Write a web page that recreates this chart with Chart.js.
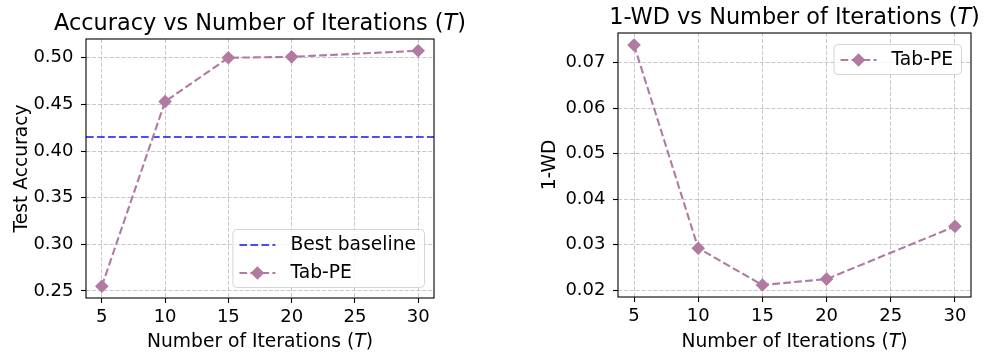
<!DOCTYPE html>
<html>
<head>
<meta charset="utf-8">
<script src="https://cdn.jsdelivr.net/npm/chart.js@4.4.1/dist/chart.umd.min.js"></script>
<style>
  html, body { margin: 0; padding: 0; background: #fff; }
  #wrap { position: relative; width: 986px; height: 355px; }
  canvas { position: absolute; top: 0; }
</style>
</head>
<body>
<div id="wrap">
  <canvas id="accChart" width="493" height="355" style="left:0"></canvas>
  <canvas id="wdChart" width="493" height="355" style="left:493px"></canvas>
</div>
<script>
// data
const iterations = [5, 10, 15, 20, 30];
const accuracy = [0.255, 0.453, 0.500, 0.501, 0.5075];
const oneWD = [0.0739, 0.0292, 0.0211, 0.0224, 0.0340];
const bestBaseline = 0.415;
const xTicks = [5, 10, 15, 20, 25, 30];
const accTicks = [0.25, 0.30, 0.35, 0.40, 0.45, 0.50];
const wdTicks = [0.02, 0.03, 0.04, 0.05, 0.06, 0.07];

const FONT = "'DejaVu Sans', sans-serif";
const LABEL_SIZE = 18.7;
const purple = "#b07aa1";
const blue = "rgba(0, 0, 255, 0.7)";
const gridColor = "rgba(176, 176, 176, 0.7)";
const lineDash = [7.7, 3.3];

// matplotlib style 5% margins
function limits(vals) {
    const lo = Math.min(...vals), hi = Math.max(...vals);
    const m = (hi - lo) * 0.05;
    return [lo - m, hi + m];
}
const [xMin, xMax] = limits(iterations);

function drawParts(ctx, parts, cx, y, size) {
    const fonts = parts.map((p) => (p[1] ? "italic " : "") + size + "px " + FONT);
    let total = 0;
    const widths = parts.map((p, i) => {
        ctx.font = fonts[i];
        const w = ctx.measureText(p[0]).width;
        total += w;
        return w;
    });
    let x = cx - total / 2;
    ctx.textAlign = "left";
    ctx.textBaseline = "alphabetic";
    parts.forEach((p, i) => {
        ctx.font = fonts[i];
        ctx.fillText(p[0], x, y);
        x += widths[i];
    });
}

function diamond(ctx, x, y, r, color) {
    ctx.beginPath();
    ctx.moveTo(x - r, y);
    ctx.lineTo(x, y - r);
    ctx.lineTo(x + r, y);
    ctx.lineTo(x, y + r);
    ctx.closePath();
    ctx.fillStyle = color;
    ctx.fill();
}

function drawLegend(ctx, items, a, corner) {
    ctx.font = LABEL_SIZE + "px " + FONT;
    const tw = Math.max(...items.map((it) => ctx.measureText(it.label).width));
    const w = 58 + tw + 8;
    const h = 30 + 28 * (items.length - 1);
    const x = a.right - 10 - w;
    const y = corner === "lower" ? a.bottom - 11 - h : a.top + 11;

    ctx.beginPath();
    ctx.roundRect(x + 0.5, y + 0.5, w, h, 4);
    ctx.fillStyle = "rgba(255,255,255,0.8)";
    ctx.fill();
    ctx.strokeStyle = "#d5d5d5";
    ctx.lineWidth = 1;
    ctx.stroke();

    items.forEach((it, i) => {
        const ry = y + 16 + 28 * i;
        ctx.save();
        ctx.setLineDash(lineDash);
        ctx.strokeStyle = it.color;
        ctx.lineWidth = 2.1;
        ctx.beginPath();
        ctx.moveTo(x + 7, ry);
        ctx.lineTo(x + 43, ry);
        ctx.stroke();
        ctx.restore();
        if (it.marker) diamond(ctx, x + 25, ry, 6.8, it.color);
        ctx.fillStyle = "#000";
        ctx.font = LABEL_SIZE + "px " + FONT;
        ctx.textAlign = "left";
        ctx.textBaseline = "middle";
        ctx.fillText(it.label, x + 58, ry);
    });
}

function decor(cfg) {
    return {
        id: "decor",
        afterDraw(chart) {
            const ctx = chart.ctx;
            const a = chart.chartArea;
            const cx = (a.left + a.right) / 2;
            ctx.save();
            ctx.strokeStyle = "#000";
            ctx.lineWidth = 1.1;
            ctx.strokeRect(a.left, a.top, a.right - a.left, a.bottom - a.top);

            ctx.fillStyle = "#000";
            drawParts(ctx, [[cfg.title + " vs Number of Iterations (", false], ["T", true], [")", false]], cx, a.top - 9.5, 22.4);
            drawParts(ctx, [["Number of Iterations (", false], ["T", true], [")", false]], cx, 346.5, LABEL_SIZE);

            ctx.save();
            ctx.translate(a.left - cfg.yLabelGap, (a.top + a.bottom) / 2);
            ctx.rotate(-Math.PI / 2);
            ctx.font = LABEL_SIZE + "px " + FONT;
            ctx.textAlign = "center";
            ctx.textBaseline = "alphabetic";
            ctx.fillText(cfg.yLabel, 0, 0);
            ctx.restore();

            drawLegend(ctx, cfg.legend, a, cfg.corner);
            ctx.restore();
        },
    };
}

function scales(yLim, yTicks, yWidth, xHeight) {
    const tickFont = { family: FONT, size: 18 };
    return {
        x: {
            type: "linear",
            min: xMin,
            max: xMax,
            afterBuildTicks: (s) => { s.ticks = xTicks.map((v) => ({ value: v })); },
            afterFit: (s) => { s.height = xHeight; },
            ticks: { font: tickFont, color: "#000", padding: 4, maxRotation: 0, autoSkip: false, callback: (v) => String(v) },
            grid: { color: gridColor, lineWidth: 1, tickColor: "#000", tickLength: 5, tickWidth: 1.1, tickBorderDash: [] },
            border: { display: false, dash: [4.1, 1.8] },
        },
        y: {
            type: "linear",
            min: yLim[0],
            max: yLim[1],
            afterBuildTicks: (s) => { s.ticks = yTicks.map((v) => ({ value: v })); },
            afterFit: (s) => { s.width = yWidth; },
            ticks: { font: tickFont, color: "#000", padding: 7.5, autoSkip: false, callback: (v) => v.toFixed(2) },
            grid: { color: gridColor, lineWidth: 1, tickColor: "#000", tickLength: 5, tickWidth: 1.1, tickBorderDash: [] },
            border: { display: false, dash: [4.1, 1.8] },
        },
    };
}

function tabPE(values) {
    return {
        label: "Tab-PE",
        data: iterations.map((x, i) => ({ x: x, y: values[i] })),
        borderColor: purple,
        backgroundColor: purple,
        borderWidth: 2.1,
        borderDash: lineDash,
        pointStyle: "rectRot",
        pointRadius: 6.8,
        pointBorderWidth: 0,
        pointBackgroundColor: purple,
        tension: 0,
        order: 0,
    };
}

new Chart(document.getElementById("accChart"), {
    type: "line",
    data: {
        datasets: [
            tabPE(accuracy),
            {
                label: "Best baseline",
                data: [{ x: xMin, y: bestBaseline }, { x: xMax, y: bestBaseline }],
                borderColor: blue,
                borderWidth: 2.1,
                borderDash: lineDash,
                pointRadius: 0,
                order: 1,
            },
        ],
    },
    options: {
        responsive: false,
        animation: false,
        devicePixelRatio: 1,
        layout: { padding: { left: 0, right: 59, top: 39, bottom: 0 } },
        scales: scales(limits(accuracy), accTicks, 86, 57),
        plugins: { legend: { display: false }, tooltip: { enabled: false } },
    },
    plugins: [decor({
        title: "Accuracy",
        yLabel: "Test Accuracy",
        yLabelGap: 59,
        corner: "lower",
        legend: [
            { label: "Best baseline", color: blue, marker: false },
            { label: "Tab-PE", color: purple, marker: true },
        ],
    })],
});

new Chart(document.getElementById("wdChart"), {
    type: "line",
    data: { datasets: [tabPE(oneWD)] },
    options: {
        responsive: false,
        animation: false,
        devicePixelRatio: 1,
        layout: { padding: { left: 0, right: 15, top: 33, bottom: 0 } },
        scales: scales(limits(oneWD), wdTicks, 125, 58),
        plugins: { legend: { display: false }, tooltip: { enabled: false } },
    },
    plugins: [decor({
        title: "1-WD",
        yLabel: "1-WD",
        yLabelGap: 63,
        corner: "upper",
        legend: [{ label: "Tab-PE", color: purple, marker: true }],
    })],
});
</script>
</body>
</html>
